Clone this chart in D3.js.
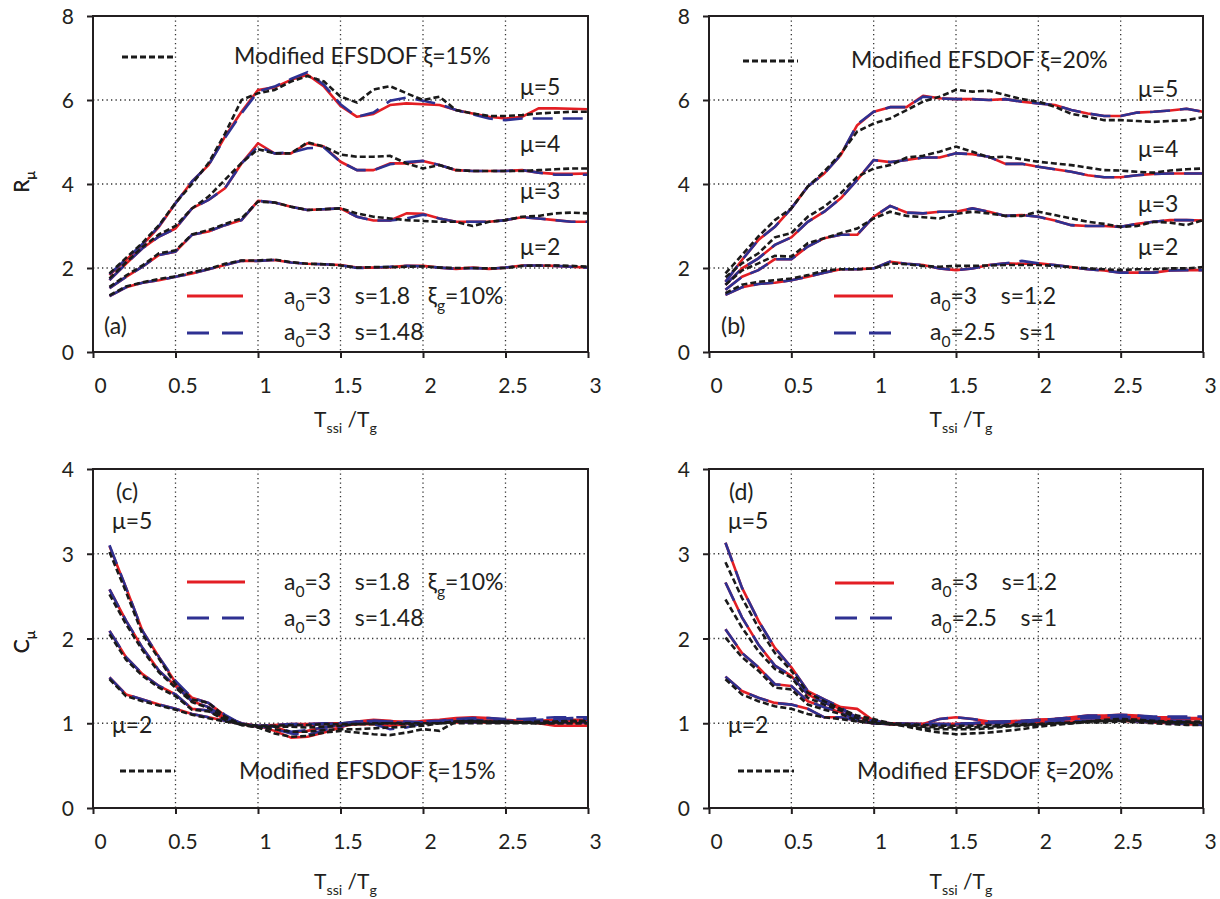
<!DOCTYPE html>
<html><head><meta charset="utf-8">
<script src="https://cdn.jsdelivr.net/npm/d3@7"></script>
<style>
body{margin:0;background:#fff}
svg{display:block}
text{font-family:Lato,"Open Sans","DejaVu Sans",sans-serif;fill:#231f20}
</style>
</head><body>
<svg id="chart" width="1220" height="899"></svg>
<script>
// ---------- DATA ----------
const tRatio = [0.1,0.2,0.3,0.4,0.5,0.6,0.7,0.8,0.9,1.0,1.1,1.2,1.3,1.4,1.5,1.6,1.7,1.8,1.9,2.0,2.1,2.2,2.3,2.4,2.5,2.6,2.7,2.8,2.9,3.0];
const xTicks = [0,0.5,1,1.5,2,2.5,3];
const yTicksR = [0,2,4,6,8];
const yTicksC = [0,1,2,3,4];
const ductility = [5,4,3,2];

// Panel (a): R_mu, Modified EFSDOF xi=15%
const aRed5 = [1.83,2.19,2.55,2.98,3.54,4.06,4.45,5.13,5.72,6.24,6.30,6.48,6.60,6.32,5.86,5.60,5.67,5.88,5.92,5.90,5.88,5.76,5.68,5.60,5.56,5.60,5.80,5.80,5.79,5.78];
const aBlue5 = [1.85,2.21,2.57,3.00,3.54,4.06,4.45,5.10,5.68,6.20,6.32,6.50,6.66,6.36,5.90,5.60,5.70,5.98,6.06,5.98,5.90,5.76,5.66,5.56,5.52,5.56,5.56,5.56,5.56,5.56];
const aBlack5 = [1.87,2.24,2.60,3.02,3.55,4.00,4.50,5.20,6.00,6.16,6.24,6.44,6.57,6.44,6.08,5.94,6.25,6.33,6.16,6.00,6.08,5.76,5.68,5.62,5.62,5.64,5.68,5.70,5.72,5.72];
const aRed4 = [1.71,2.10,2.47,2.75,2.94,3.42,3.62,3.90,4.49,4.97,4.73,4.73,4.97,4.89,4.53,4.33,4.33,4.49,4.49,4.55,4.45,4.33,4.31,4.31,4.31,4.33,4.27,4.24,4.24,4.25];
const aBlue4 = [1.71,2.10,2.47,2.75,2.94,3.42,3.62,3.90,4.49,4.90,4.73,4.75,4.85,4.87,4.53,4.33,4.33,4.47,4.52,4.55,4.45,4.33,4.31,4.31,4.31,4.33,4.27,4.22,4.22,4.22];
const aBlack4 = [1.75,2.13,2.50,2.80,3.00,3.42,3.70,4.10,4.50,4.83,4.73,4.73,4.99,4.89,4.70,4.65,4.65,4.67,4.49,4.37,4.45,4.33,4.31,4.31,4.31,4.31,4.33,4.35,4.37,4.37];
const aRed3 = [1.52,1.79,2.03,2.31,2.39,2.79,2.87,3.02,3.14,3.60,3.56,3.46,3.38,3.40,3.42,3.22,3.13,3.13,3.30,3.29,3.18,3.10,3.10,3.10,3.14,3.21,3.18,3.14,3.10,3.10];
const aBlue3 = [1.52,1.79,2.03,2.31,2.39,2.79,2.87,3.02,3.14,3.60,3.56,3.46,3.38,3.40,3.42,3.22,3.13,3.13,3.18,3.27,3.18,3.10,3.10,3.10,3.14,3.21,3.18,3.14,3.10,3.10];
const aBlack3 = [1.55,1.82,2.06,2.35,2.42,2.80,2.90,3.05,3.18,3.58,3.56,3.46,3.38,3.40,3.42,3.30,3.22,3.18,3.14,3.12,3.10,3.10,3.00,3.10,3.14,3.22,3.24,3.30,3.32,3.30];
const aRed2 = [1.33,1.54,1.65,1.71,1.79,1.87,1.97,2.07,2.17,2.17,2.19,2.13,2.10,2.09,2.07,2.01,2.01,2.02,2.05,2.05,2.01,1.98,2.01,1.98,2.01,2.06,2.06,2.05,2.03,2.01];
const aBlue2 = [1.33,1.54,1.65,1.71,1.79,1.87,1.97,2.07,2.17,2.17,2.19,2.13,2.10,2.09,2.07,2.00,2.01,2.03,2.05,2.04,2.01,1.98,2.00,1.98,2.01,2.06,2.06,2.05,2.03,2.01];
const aBlack2 = [1.35,1.56,1.66,1.74,1.80,1.90,1.98,2.10,2.18,2.18,2.20,2.14,2.10,2.09,2.06,2.01,2.02,2.02,2.03,2.04,2.01,2.00,2.00,1.99,2.00,2.05,2.06,2.06,2.05,2.03];

// Panel (b): R_mu, Modified EFSDOF xi=20%
const bRed5 = [1.67,2.19,2.67,2.98,3.42,3.94,4.25,4.69,5.40,5.72,5.83,5.83,6.10,6.04,6.02,6.02,6.00,6.02,5.96,5.92,5.88,5.76,5.68,5.62,5.62,5.70,5.72,5.75,5.79,5.72];
const bBlue5 = [1.67,2.19,2.67,2.98,3.42,3.94,4.25,4.69,5.42,5.72,5.83,5.83,6.08,6.04,6.02,6.02,6.00,6.02,5.96,5.92,5.88,5.76,5.68,5.62,5.62,5.70,5.72,5.75,5.79,5.72];
const bBlack5 = [1.87,2.31,2.75,3.14,3.42,3.94,4.30,4.72,5.25,5.44,5.56,5.76,5.96,6.08,6.24,6.20,6.22,6.12,6.02,5.96,5.84,5.67,5.60,5.52,5.52,5.50,5.48,5.50,5.52,5.59];
const bRed4 = [1.60,1.99,2.23,2.55,2.73,3.10,3.34,3.66,4.10,4.57,4.52,4.57,4.63,4.63,4.73,4.71,4.65,4.48,4.48,4.41,4.35,4.29,4.21,4.16,4.16,4.21,4.24,4.25,4.25,4.25];
const bBlue4 = [1.60,1.99,2.23,2.55,2.73,3.10,3.34,3.66,4.10,4.57,4.52,4.57,4.63,4.63,4.73,4.71,4.65,4.48,4.48,4.41,4.35,4.29,4.21,4.16,4.16,4.21,4.24,4.25,4.25,4.25];
const bBlack4 = [1.78,2.11,2.35,2.73,2.83,3.22,3.46,3.78,4.17,4.37,4.45,4.63,4.67,4.77,4.89,4.77,4.63,4.65,4.59,4.53,4.49,4.45,4.39,4.33,4.32,4.29,4.27,4.32,4.35,4.37];
const bRed3 = [1.48,1.79,1.95,2.21,2.21,2.51,2.71,2.79,2.79,3.22,3.48,3.32,3.30,3.34,3.34,3.42,3.34,3.24,3.26,3.22,3.13,3.02,3.00,3.00,2.98,3.05,3.10,3.14,3.14,3.13];
const bBlue3 = [1.48,1.79,1.95,2.21,2.21,2.51,2.71,2.79,2.79,3.22,3.48,3.32,3.30,3.34,3.34,3.42,3.34,3.24,3.26,3.22,3.13,3.02,3.00,3.00,2.98,3.05,3.10,3.14,3.14,3.13];
const bBlack3 = [1.60,1.94,2.11,2.29,2.27,2.59,2.71,2.83,2.94,3.18,3.34,3.24,3.21,3.18,3.29,3.34,3.30,3.24,3.24,3.34,3.26,3.18,3.10,3.05,2.98,3.00,3.10,3.08,3.02,3.14];
const bRed2 = [1.36,1.54,1.62,1.65,1.71,1.79,1.89,1.97,1.97,1.99,2.15,2.10,2.07,1.99,1.95,1.99,2.07,2.11,2.10,2.11,2.07,2.02,1.97,1.94,1.89,1.89,1.89,1.94,1.95,1.95];
const bBlue2 = [1.36,1.54,1.62,1.65,1.71,1.79,1.89,1.97,1.97,1.99,2.15,2.10,2.07,1.99,1.95,1.99,2.07,2.11,2.17,2.11,2.07,2.02,1.97,1.94,1.89,1.89,1.89,1.94,1.95,1.95];
const bBlack2 = [1.40,1.60,1.67,1.71,1.75,1.83,1.94,1.97,1.97,1.99,2.11,2.09,2.05,2.03,2.05,2.05,2.06,2.07,2.07,2.07,2.05,2.02,1.99,1.97,1.95,1.97,1.97,1.99,1.99,2.02];

// Panel (c): C_mu, Modified EFSDOF xi=15%
const cRed5 = [3.09,2.60,2.09,1.78,1.48,1.30,1.24,1.09,0.99,0.97,0.91,0.83,0.84,0.89,0.95,1.02,1.04,1.03,1.00,1.03,1.04,1.06,1.07,1.06,1.04,1.03,1.00,0.97,0.97,0.97];
const cBlue5 = [3.10,2.60,2.09,1.78,1.50,1.30,1.24,1.10,0.99,0.97,0.93,0.88,0.86,0.92,0.96,1.02,1.03,1.02,1.00,1.02,1.03,1.05,1.06,1.06,1.05,1.05,1.06,1.07,1.07,1.07];
const cBlack5 = [3.02,2.55,2.05,1.76,1.46,1.28,1.24,1.08,0.98,0.95,0.88,0.84,0.85,0.89,0.91,0.89,0.87,0.86,0.89,0.93,0.91,1.02,1.03,1.02,1.02,1.01,1.00,1.00,1.00,1.00];
const cRed4 = [2.58,2.21,1.89,1.62,1.44,1.26,1.19,1.07,1.00,0.96,0.96,0.89,0.91,0.95,0.97,0.99,0.99,0.97,0.99,1.01,1.02,1.03,1.04,1.03,1.03,1.02,1.02,1.02,1.03,1.03];
const cBlue4 = [2.58,2.21,1.89,1.62,1.44,1.26,1.19,1.07,1.00,0.96,0.96,0.90,0.92,0.95,0.98,1.00,0.99,0.93,0.95,1.00,1.02,1.03,1.04,1.03,1.03,1.03,1.04,1.05,1.06,1.06];
const cBlack4 = [2.52,2.17,1.86,1.60,1.42,1.25,1.18,1.06,0.99,0.95,0.93,0.90,0.90,0.92,0.93,0.93,0.94,0.95,0.96,0.97,1.00,1.02,1.02,1.01,1.01,1.01,1.00,1.01,1.02,1.02];
const cRed3 = [2.09,1.78,1.58,1.44,1.34,1.17,1.15,1.05,0.99,0.96,0.97,0.98,0.98,0.99,0.99,1.02,1.03,1.02,1.02,1.01,1.02,1.04,1.04,1.03,1.02,1.02,1.03,1.04,1.04,1.04];
const cBlue3 = [2.09,1.78,1.58,1.44,1.34,1.17,1.15,1.05,0.99,0.96,0.97,0.98,0.98,0.99,1.00,1.02,1.03,1.02,1.02,1.01,1.02,1.04,1.04,1.03,1.02,1.02,1.03,1.04,1.05,1.05];
const cBlack3 = [2.05,1.75,1.56,1.42,1.32,1.16,1.14,1.04,0.98,0.96,0.96,0.96,0.95,0.96,0.97,0.99,1.00,1.00,0.99,0.99,1.00,1.02,1.02,1.02,1.02,1.01,1.02,1.02,1.03,1.03];
const cRed2 = [1.54,1.34,1.28,1.22,1.17,1.11,1.07,1.03,0.99,0.97,0.98,0.99,0.99,1.00,1.00,1.00,1.00,1.00,1.00,1.01,1.01,1.01,1.01,1.01,1.01,1.01,1.01,1.00,1.00,1.00];
const cBlue2 = [1.54,1.34,1.28,1.22,1.17,1.11,1.07,1.03,0.99,0.97,0.98,0.99,0.99,1.00,1.00,1.00,1.00,1.00,1.00,1.01,1.01,1.01,1.01,1.01,1.01,1.01,1.01,1.01,1.01,1.01];
const cBlack2 = [1.52,1.32,1.26,1.21,1.16,1.10,1.06,1.02,0.99,0.97,0.97,0.98,0.98,0.99,0.99,0.99,0.99,1.00,1.00,1.00,1.00,1.00,1.00,1.00,1.00,1.00,1.00,1.00,1.00,1.00];

// Panel (d): C_mu, Modified EFSDOF xi=20%
const dRed5 = [3.13,2.60,2.21,1.89,1.66,1.38,1.28,1.19,1.17,1.03,0.99,0.99,0.99,1.05,1.07,1.05,1.02,1.01,1.02,1.04,1.05,1.07,1.09,1.09,1.10,1.09,1.07,1.07,1.06,1.06];
const dBlue5 = [3.13,2.60,2.21,1.89,1.66,1.38,1.28,1.19,1.05,1.03,0.99,0.99,0.99,1.05,1.07,1.05,1.02,1.01,1.02,1.04,1.05,1.07,1.09,1.09,1.10,1.09,1.08,1.08,1.08,1.08];
const dBlack5 = [2.90,2.48,2.13,1.83,1.62,1.36,1.26,1.17,1.09,1.05,1.00,0.96,0.92,0.89,0.87,0.88,0.89,0.91,0.93,0.96,0.98,1.00,1.02,1.04,1.05,1.04,1.02,1.01,1.01,1.01];
const dRed4 = [2.66,2.25,1.93,1.68,1.56,1.34,1.24,1.17,1.07,1.03,1.00,0.99,0.99,0.99,0.99,1.00,1.01,1.02,1.03,1.04,1.05,1.06,1.07,1.08,1.08,1.07,1.06,1.05,1.05,1.05];
const dBlue4 = [2.66,2.25,1.93,1.68,1.56,1.34,1.24,1.17,1.07,1.03,1.00,0.99,0.99,0.99,0.99,1.00,1.01,1.02,1.03,1.04,1.05,1.06,1.07,1.08,1.08,1.07,1.06,1.06,1.06,1.06];
const dBlack4 = [2.46,2.13,1.85,1.64,1.54,1.30,1.22,1.15,1.06,1.02,0.99,0.97,0.94,0.93,0.93,0.93,0.94,0.96,0.97,0.98,0.99,1.00,1.02,1.03,1.04,1.04,1.03,1.02,1.02,1.02];
const dRed3 = [2.11,1.83,1.66,1.46,1.44,1.26,1.19,1.13,1.03,1.00,0.99,0.99,0.98,0.98,0.99,1.00,1.01,1.02,1.02,1.03,1.04,1.05,1.06,1.06,1.06,1.05,1.04,1.03,1.02,1.01];
const dBlue3 = [2.11,1.83,1.66,1.46,1.44,1.26,1.19,1.13,1.03,1.00,0.99,0.99,0.98,0.98,0.99,1.00,1.01,1.02,1.02,1.03,1.04,1.05,1.06,1.06,1.06,1.05,1.04,1.03,1.02,1.01];
const dBlack3 = [2.01,1.78,1.62,1.42,1.40,1.22,1.16,1.11,1.03,1.00,0.99,0.98,0.96,0.95,0.95,0.95,0.96,0.97,0.98,0.99,1.00,1.01,1.02,1.03,1.03,1.03,1.02,1.01,1.01,1.00];
const dRed2 = [1.55,1.38,1.30,1.24,1.22,1.17,1.07,1.07,1.03,1.00,1.00,0.99,0.99,0.99,0.99,0.99,1.00,1.00,1.01,1.01,1.02,1.02,1.03,1.03,1.03,1.02,1.01,1.00,0.99,0.98];
const dBlue2 = [1.55,1.38,1.30,1.24,1.22,1.17,1.07,1.07,1.03,1.00,1.00,0.99,0.99,0.99,0.99,0.99,1.00,1.00,1.01,1.01,1.02,1.02,1.03,1.03,1.03,1.02,1.01,1.00,0.99,0.98];
const dBlack2 = [1.52,1.34,1.26,1.20,1.17,1.11,1.07,1.05,1.02,1.00,1.00,0.99,0.98,0.97,0.97,0.97,0.98,0.98,0.99,0.99,1.00,1.00,1.01,1.01,1.02,1.01,1.00,0.99,0.98,0.98];

// ---------- PANELS ----------
const COLORS = {red:"#e31e24", blue:"#2e3192", black:"#1a1a1a", ink:"#231f20", grid:"#333"};
const panels = [
  {id:"a", left:93, right:588, top:16, bottom:352, yMax:8, yTicks:yTicksR, grid:[2,4,6], yTitle:"R", yTitleY:182, xTitleY:427,
   red:[aRed5,aRed4,aRed3,aRed2], blue:[aBlue5,aBlue4,aBlue3,aBlue2], black:[aBlack5,aBlack4,aBlack3,aBlack2]},
  {id:"b", left:709, right:1203, top:16, bottom:352, yMax:8, yTicks:yTicksR, grid:[2,4,6], yTitle:"R", yTitleY:182, xTitleY:427,
   red:[bRed5,bRed4,bRed3,bRed2], blue:[bBlue5,bBlue4,bBlue3,bBlue2], black:[bBlack5,bBlack4,bBlack3,bBlack2]},
  {id:"c", left:93, right:588, top:469, bottom:808, yMax:4, yTicks:yTicksC, grid:[1,2,3], yTitle:"C", yTitleY:642, xTitleY:889,
   red:[cRed5,cRed4,cRed3,cRed2], blue:[cBlue5,cBlue4,cBlue3,cBlue2], black:[cBlack5,cBlack4,cBlack3,cBlack2]},
  {id:"d", left:709, right:1203, top:469, bottom:808, yMax:4, yTicks:yTicksC, grid:[1,2,3], yTitle:"C", yTitleY:642, xTitleY:889,
   red:[dRed5,dRed4,dRed3,dRed2], blue:[dBlue5,dBlue4,dBlue3,dBlue2], black:[dBlack5,dBlack4,dBlack3,dBlack2]}
];

const svg = d3.select("#chart");
const NB = "\u00a0";

// text with subscripts: arr = [[string, isSub], ...]
function richText(g,x,y,arr,size,anchor){
  const t = g.append("text").attr("x",x).attr("y",y).attr("font-size",size).attr("text-anchor",anchor||"start");
  let shifted=false;
  arr.forEach(s=>{
    const sp=t.append("tspan").text(s[0].replace(/ /g,NB));
    if(s[1]){ sp.attr("font-size",size*0.68).attr("dy", shifted?0:size*0.3); shifted=true; }
    else { if(shifted){ sp.attr("dy",-size*0.3); shifted=false; } }
  });
  return t;
}

panels.forEach(p=>{
  const g = svg.append("g");
  const x = d3.scaleLinear().domain([0,3]).range([p.left,p.right]);
  const y = d3.scaleLinear().domain([0,p.yMax]).range([p.bottom,p.top]);

  // grid
  g.append("g").selectAll("line").data(xTicks.slice(1,-1)).join("line")
    .attr("x1",d=>x(d)).attr("x2",d=>x(d)).attr("y1",p.top).attr("y2",p.bottom)
    .attr("stroke",COLORS.grid).attr("stroke-width",1.3).attr("stroke-dasharray","1.3,3.2");
  g.append("g").selectAll("line").data(p.grid).join("line")
    .attr("y1",d=>y(d)).attr("y2",d=>y(d)).attr("x1",p.left).attr("x2",p.right)
    .attr("stroke",COLORS.grid).attr("stroke-width",1.3).attr("stroke-dasharray","1.3,3.2");

  const line = d3.line().x((d,i)=>x(tRatio[i])).y(d=>y(d));
  const lg = g.append("g").attr("fill","none");
  p.red.forEach(s=>lg.append("path").datum(s).attr("d",line)
      .attr("stroke",COLORS.red).attr("stroke-width",2.6).attr("stroke-linejoin","round"));
  p.blue.forEach(s=>lg.append("path").datum(s).attr("d",line)
      .attr("stroke",COLORS.blue).attr("stroke-width",2.6).attr("stroke-dasharray","20,10"));
  p.black.forEach(s=>lg.append("path").datum(s).attr("d",line)
      .attr("stroke",COLORS.black).attr("stroke-width",2.6).attr("stroke-dasharray","6,3"));

  // frame
  g.append("rect").attr("x",p.left).attr("y",p.top).attr("width",p.right-p.left).attr("height",p.bottom-p.top)
    .attr("fill","none").attr("stroke",COLORS.ink).attr("stroke-width",2);

  // axes
  const xa = g.append("g").attr("transform",`translate(0,${p.bottom})`)
    .call(d3.axisBottom(x).tickValues(xTicks).tickFormat(d3.format("")).tickSize(6).tickPadding(20));
  const ya = g.append("g").attr("transform",`translate(${p.left},0)`)
    .call(d3.axisLeft(y).tickValues(p.yTicks).tickFormat(d3.format("d")).tickSize(6).tickPadding(13));
  [xa,ya].forEach(a=>{
    a.select(".domain").remove();
    a.selectAll("line").attr("stroke",COLORS.ink).attr("stroke-width",2);
    a.selectAll("text").attr("font-size",21).attr("fill",COLORS.ink)
      .style("font-family","Lato,'Open Sans',sans-serif");
  });
  xa.selectAll("text").attr("dx",7);
  ya.selectAll("text").attr("dy","0.36em");

  // axis titles
  const cx = (p.left+p.right)/2 + 5;
  richText(g, cx, p.xTitleY, [["T",false],["ssi",true],[" /T",false],["g",true]], 21, "middle");
  const yt = richText(g, 0, 0, [[p.yTitle,false],["μ",true]], 21, "middle");
  yt.attr("transform",`translate(29,${p.yTitleY}) rotate(-90)`);
});

// ---------- LEGENDS / ANNOTATIONS ----------
const ann = svg.append("g");
function legLine(x1,x2,yy,type){
  const l = ann.append("line").attr("x1",x1).attr("x2",x2).attr("y1",yy).attr("y2",yy).attr("stroke-width",2.8);
  if(type==="red") l.attr("stroke",COLORS.red);
  if(type==="blue") l.attr("stroke",COLORS.blue).attr("stroke-dasharray","22,13");
  if(type==="black") l.attr("stroke",COLORS.black).attr("stroke-dasharray","6,3");
}
const FS = 23;
// (a)
legLine(122,175,57,"black");
richText(ann,234,64,[["Modified EFSDOF ξ=15%",false]],FS);
legLine(187,243,296,"red");
richText(ann,284,304,[["a",false],["0",true],["=3    s=1.8   ξ",false],["g",true],["=10%",false]],FS);
legLine(187,243,333,"blue");
richText(ann,284,340,[["a",false],["0",true],["=3    s=1.48",false]],FS);
richText(ann,104,334,[["(a)",false]],FS);
[[95,"μ=5"],[152,"μ=4"],[199,"μ=3"],[255,"μ=2"]].forEach(d=>richText(ann,520,d[0],[[d[1],false]],FS));
// (b)
legLine(743,798,61,"black");
richText(ann,851,68,[["Modified EFSDOF ξ=20%",false]],FS);
legLine(834,893,296,"red");
richText(ann,930,304,[["a",false],["0",true],["=3    s=1.2",false]],FS);
legLine(834,893,333,"blue");
richText(ann,930,340,[["a",false],["0",true],["=2.5    s=1",false]],FS);
richText(ann,721,334,[["(b)",false]],FS);
[[97,"μ=5"],[157,"μ=4"],[212,"μ=3"],[255,"μ=2"]].forEach(d=>richText(ann,1138,d[0],[[d[1],false]],FS));
// (c)
richText(ann,116,500,[["(c)",false]],FS);
richText(ann,112,529,[["μ=5",false]],FS);
richText(ann,112,733,[["μ=2",false]],FS);
legLine(187,245,582,"red");
richText(ann,284,590,[["a",false],["0",true],["=3    s=1.8   ξ",false],["g",true],["=10%",false]],FS);
legLine(187,245,618,"blue");
richText(ann,284,626,[["a",false],["0",true],["=3    s=1.48",false]],FS);
legLine(120,175,771,"black");
richText(ann,239,779,[["Modified EFSDOF ξ=15%",false]],FS);
// (d)
richText(ann,729,500,[["(d)",false]],FS);
richText(ann,728,529,[["μ=5",false]],FS);
richText(ann,728,733,[["μ=2",false]],FS);
legLine(835,894,583,"red");
richText(ann,931,590,[["a",false],["0",true],["=3    s=1.2",false]],FS);
legLine(835,894,618,"blue");
richText(ann,931,626,[["a",false],["0",true],["=2.5    s=1",false]],FS);
legLine(738,794,771,"black");
richText(ann,857,779,[["Modified EFSDOF ξ=20%",false]],FS);
</script>
</body></html>
